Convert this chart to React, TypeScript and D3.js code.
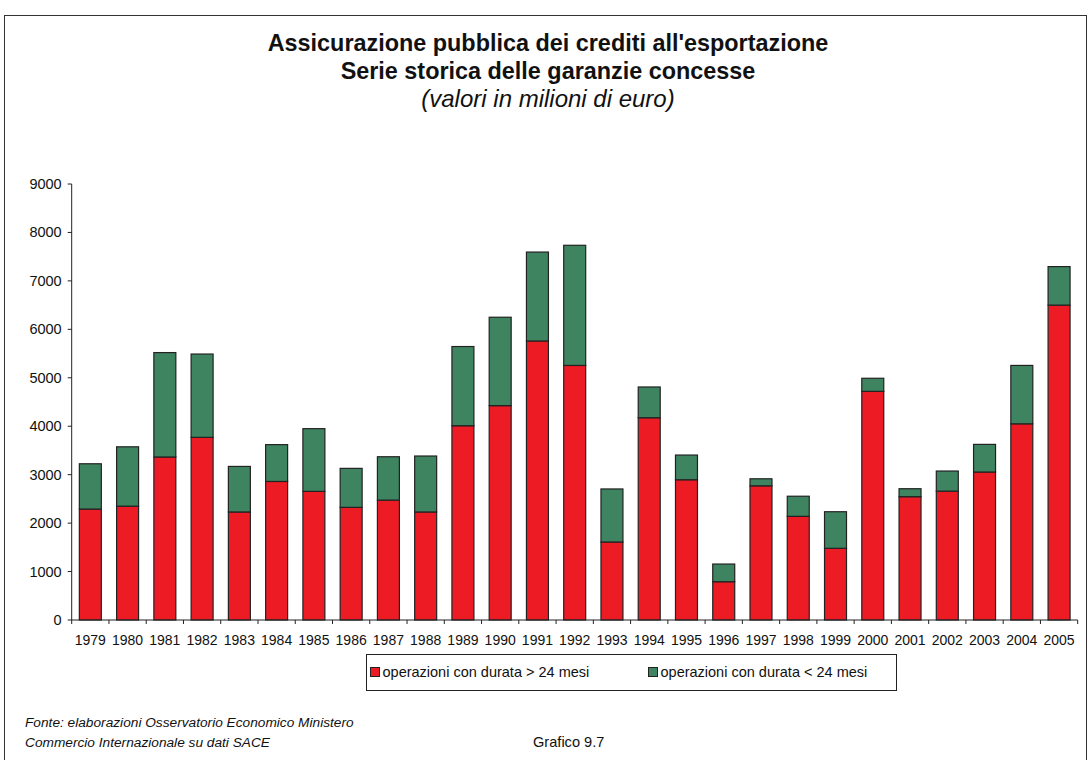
import React from "react";
import * as d3 from "d3";

const years = ["1979","1980","1981","1982","1983","1984","1985","1986","1987","1988","1989","1990","1991","1992","1993","1994","1995","1996","1997","1998","1999","2000","2001","2002","2003","2004","2005"];
const longTerm = [2290,2350,3365,3770,2230,2860,2655,2325,2475,2230,4010,4425,5760,5255,1610,4175,2895,790,2770,2140,1480,4720,2545,2660,3055,4050,6500];
const totals = [3225,3575,5520,5490,3170,3620,3950,3130,3370,3385,5645,6250,7595,7735,2705,4810,3405,1155,2915,2555,2235,4990,2710,3075,3625,5255,7295];
const shortTerm = totals.map((t, i) => t - longTerm[i]);
const yTicks = [0,1000,2000,3000,4000,5000,6000,7000,8000,9000];
const seriesNames = ["operazioni con durata > 24 mesi", "operazioni con durata < 24 mesi"];
const colors = ["#ED1C24", "#3F8460"];

export default function App() {
  const W = 1089, H = 760;
  const left = 71.7, right = 1077.7, top = 184, bottom = 620;
  const x = d3.scaleBand().domain(years).range([left, right]).paddingInner(0.41).paddingOuter(0.205);
  const y = d3.scaleLinear().domain([0, 9000]).range([bottom, top]);
  const stackData = years.map((yr, i) => ({ year: yr, a: longTerm[i], b: shortTerm[i] }));
  const stacked = d3.stack<any>().keys(["a", "b"])(stackData);
  const font = "'Liberation Sans', Arial, Helvetica, sans-serif";
  const step = (right - left) / years.length;
  return (
    <svg width={W} height={H} style={{ position: "absolute", left: 0, top: 0 }} fontFamily={font}>
      <rect x={0} y={0} width={W} height={H} fill="#fff" />
      <rect x={4.5} y={15.5} width={1082} height={800} fill="none" stroke="#333" strokeWidth={1} />
      <text x={548} y={51} textAnchor="middle" fontSize={23.4} fontWeight="bold" fill="#111">Assicurazione pubblica dei crediti all'esportazione</text>
      <text x={548} y={78.5} textAnchor="middle" fontSize={23.4} fontWeight="bold" fill="#111">Serie storica delle garanzie concesse</text>
      <text x={548} y={106.5} textAnchor="middle" fontSize={24} fontStyle="italic" fill="#111">(valori in milioni di euro)</text>

      {stacked.map((layer, li) => (
        <g key={li}>
          {layer.map((d: any, i: number) => (
            <rect key={i} x={x(years[i])} y={y(d[1])} width={x.bandwidth()} height={y(d[0]) - y(d[1])}
              fill={colors[li]} stroke="#222" strokeWidth={1.2} />
          ))}
        </g>
      ))}

      <line x1={left} x2={left} y1={top} y2={bottom} stroke="#222" strokeWidth={1} />
      <line x1={left} x2={right} y1={bottom} y2={bottom} stroke="#222" strokeWidth={1} />
      {yTicks.map(t => (
        <g key={t}>
          <line x1={left - 4} x2={left} y1={y(t)} y2={y(t)} stroke="#222" />
          <text x={left - 10} y={y(t) + 5} textAnchor="end" fontSize={14.5} fill="#111">{t}</text>
        </g>
      ))}
      {d3.range(years.length + 1).map(i => (
        <line key={i} x1={left + i * step} x2={left + i * step} y1={bottom} y2={bottom + 4} stroke="#222" />
      ))}
      {years.map(yr => (
        <text key={yr} x={(x(yr) as number) + x.bandwidth() / 2} y={645} textAnchor="middle" fontSize={14} fill="#111">{yr}</text>
      ))}

      <rect x={366.5} y={654.5} width={530} height={36} fill="#fff" stroke="#222" strokeWidth={1} />
      {seriesNames.map((s, i) => {
        const lx = i === 0 ? 370 : 648;
        return (
          <g key={s}>
            <rect x={lx + 0.5} y={667.5} width={9} height={9} fill={colors[i]} stroke="#222" strokeWidth={1} />
            <text x={lx + 12.5} y={677} fontSize={14.5} fill="#111">{s}</text>
          </g>
        );
      })}

      <text x={25} y={727} fontSize={13.7} fontStyle="italic" fill="#111">Fonte: elaborazioni Osservatorio Economico Ministero</text>
      <text x={25} y={747} fontSize={13.7} fontStyle="italic" fill="#111">Commercio Internazionale su dati SACE</text>
      <text x={533} y={747} fontSize={14.6} fill="#111">Grafico 9.7</text>
    </svg>
  );
}
